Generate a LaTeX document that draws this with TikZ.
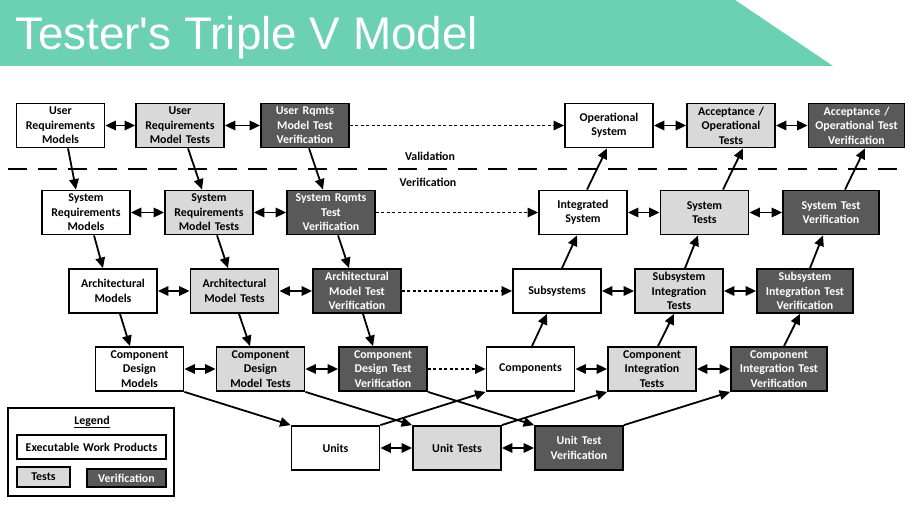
\documentclass[tikz,border=0pt]{standalone}
\usepackage{fontspec}
\setmainfont{Carlito}
\newfontfamily\titlefont[Ligatures=ResetAll]{Liberation Sans}
\usetikzlibrary{arrows.meta}
\definecolor{banner}{RGB}{108,208,178}
\definecolor{testgray}{RGB}{217,217,217}
\definecolor{verifgray}{RGB}{89,89,89}
\begin{document}
\begin{tikzpicture}[x=1pt,y=-1pt,
 box/.style={draw=black, line width=1.8pt, fill=white, align=center, inner sep=0pt,
   font=\fontsize{11.9}{14.4}\selectfont\bfseries, minimum height=44pt, minimum width=88pt, text width=87pt},
 wide/.style={minimum width=96pt, text width=95pt},
 wpbox/.style={box},
 tstbox/.style={box, fill=testgray},
 verbox/.style={box, fill=verifgray, text=white},
 tip/.tip={Triangle[length=10.5pt,width=9.5pt]},
 arr/.style={line width=1.8pt, -tip},
 darr/.style={line width=1.8pt, tip-tip},
 dots/.style={line width=1.4pt, dash pattern=on 3pt off 2.5pt, -tip},
 lbl/.style={font=\fontsize{11.9}{14}\selectfont\bfseries, inner sep=0pt},
]
\useasboundingbox (0,0) rectangle (913,510);
% banner
\fill[banner] (0,0) -- (735,0) -- (833,66) -- (0,66) -- cycle;
\node[anchor=base west, text=white, inner sep=0pt, font=\titlefont\fontsize{45.8}{50}\selectfont] (title) at (15,50) {Tester's Triple V Model};

% validation / verification divider
\coordinate (dl) at (8,169);
\coordinate (dr) at (905,169);
\draw[line width=1.8pt, dash pattern=on 19pt off 11pt] (dl) -- (dr);
\node[lbl] (val) at (430,156) {Validation};
\node[lbl] (verl) at (428,182) {Verification};

% row 1
\node[wpbox] (urm) at (60.5,125.5) {User\\Requirements\\Models};
\node[tstbox] (urmt) at (180,125.5) {User\\Requirements\\Model Tests};
\node[verbox] (urv) at (305,125.5) {User Rqmts\\Model Test\\Verification};
\node[wpbox] (ops) at (609,125.5) {Operational\\System};
\node[tstbox] (aot) at (731,125.5) {Acceptance /\\Operational\\Tests};
\node[verbox, wide] (aov) at (856.5,125.5) {Acceptance /\\Operational Test\\Verification};
% row 2
\node[wpbox] (srm) at (86,212.5) {System\\Requirements\\Models};
\node[tstbox] (srmt) at (209,212.5) {System\\Requirements\\Model Tests};
\node[verbox] (srv) at (331,212.5) {System Rqmts\\Test\\Verification};
\node[wpbox] (ints) at (583,212.5) {Integrated\\System};
\node[tstbox] (syst) at (704.5,212.5) {System\\Tests};
\node[verbox, wide] (stv) at (831,212.5) {System Test\\Verification};
% row 3
\node[wpbox] (am) at (113,291) {Architectural\\Models};
\node[tstbox] (amt) at (234.5,291) {Architectural\\Model Tests};
\node[verbox] (amv) at (357,291) {Architectural\\Model Test\\Verification};
\node[wpbox] (subs) at (557,291) {Subsystems};
\node[tstbox] (sit) at (679,291) {Subsystem\\Integration\\Tests};
\node[verbox, wide] (sitv) at (805,291) {Subsystem\\Integration Test\\Verification};
% row 4
\node[wpbox] (cdm) at (139.5,369) {Component\\Design\\Models};
\node[tstbox] (cdmt) at (260.5,369) {Component\\Design\\Model Tests};
\node[verbox] (cdv) at (383,369) {Component\\Design Test\\Verification};
\node[wpbox] (comps) at (530.5,369) {Components};
\node[tstbox] (cit) at (652,369) {Component\\Integration\\Tests};
\node[verbox, wide] (citv) at (779,369) {Component\\Integration Test\\Verification};
% row 5
\node[wpbox] (units) at (335.5,448) {Units};
\node[tstbox] (ut) at (457,448) {Unit Tests};
\node[verbox] (utv) at (579,448) {Unit Test\\Verification};

% horizontal double arrows
\foreach \a/\b in {urm/urmt, urmt/urv, ops/aot, aot/aov,
                   srm/srmt, srmt/srv, ints/syst, syst/stv,
                   am/amt, amt/amv, subs/sit, sit/sitv,
                   cdm/cdmt, cdmt/cdv, comps/cit, cit/citv,
                   units/ut, ut/utv}
  \draw[darr] (\a) -- (\b);

% dotted arrows
\draw[dots] (urv) -- (ops);
\draw[dots] (srv) -- (ints);
\draw[dots] (amv) -- (subs);
\draw[dots] (cdv) -- (comps);

% left side, going down
\draw[arr] ([xshift=7.5pt]urm.south) -- ([xshift=-10pt]srm.north);
\draw[arr] ([xshift=8pt]urmt.south) -- ([xshift=-7pt]srmt.north);
\draw[arr] ([xshift=4pt]urv.south) -- ([xshift=-8pt]srv.north);
\draw[arr] ([xshift=8pt]srm.south) -- ([xshift=-10pt]am.north);
\draw[arr] ([xshift=8pt]srmt.south) -- ([xshift=-6.5pt]amt.north);
\draw[arr] ([xshift=7pt]srv.south) -- ([xshift=-8pt]amv.north);
\draw[arr] ([xshift=7pt]am.south) -- ([xshift=-9.5pt]cdm.north);
\draw[arr] ([xshift=4.5pt]amt.south) -- ([xshift=-10.5pt]cdmt.north);
\draw[arr] ([xshift=6pt]amv.south) -- ([xshift=-10pt]cdv.north);
\draw[arr] (cdm.south east) -- (units.north west);
\draw[arr] (cdmt.south east) -- (ut.north west);
\draw[arr] (cdv.south east) -- (utv.north west);

% right side, going up
\draw[arr] (units.north east) -- (comps.south west);
\draw[arr] (ut.north east) -- (cit.south west);
\draw[arr] (utv.north east) -- (citv.south west);
\draw[arr] ([xshift=1.5pt]comps.north) -- ([xshift=-10pt]subs.south);
\draw[arr] ([xshift=6pt]cit.north) -- ([xshift=-5pt]sit.south);
\draw[arr] ([xshift=5pt]citv.north) -- ([xshift=-5pt]sitv.south);
\draw[arr] ([xshift=5pt]subs.north) -- ([xshift=-6pt]ints.south);
\draw[arr] ([xshift=6pt]sit.north) -- ([xshift=-6.5pt]syst.south);
\draw[arr] ([xshift=5pt]sitv.north) -- ([xshift=-8pt]stv.south);
\draw[arr] ([xshift=4pt]ints.north) -- ([xshift=-2pt]ops.south);
\draw[arr] ([xshift=18.5pt]syst.north) -- ([xshift=12pt]aot.south);
\draw[arr] ([xshift=14pt]stv.north) -- ([xshift=8.5pt]aov.south);

% legend
\node[draw=black, line width=1.6pt, minimum width=166pt, minimum height=88pt, inner sep=0pt] (lg) at (91,452) {};
\node[lbl] (lgt) at (92,422) {\underline{Legend}};
\node[box, minimum width=149pt, text width=148pt, minimum height=24pt] (lgwp) at (91.5,447) {Executable Work Products};
\node[tstbox, minimum width=53pt, text width=52pt, minimum height=20pt] (lgts) at (43.5,477) {Tests};
\node[verbox, minimum width=79pt, text width=78pt, minimum height=18pt] (lgv) at (126.5,478) {Verification};
\end{tikzpicture}
\end{document}
